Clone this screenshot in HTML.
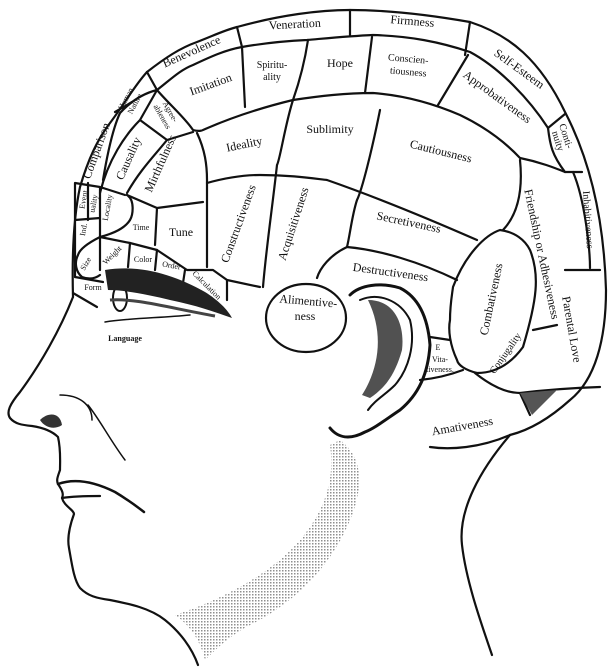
<!DOCTYPE html>
<html><head><meta charset="utf-8"><style>
html,body{margin:0;padding:0;background:#fff;}
svg{display:block}
text{font-family:"Liberation Serif",serif;font-size:12px;fill:#111;}
.s{font-size:10px}
.xs{font-size:8px}
</style></head><body>
<svg width="612" height="667" viewBox="0 0 612 667" xmlns="http://www.w3.org/2000/svg">
<defs>
<pattern id="dots" width="3" height="3" patternUnits="userSpaceOnUse"><rect width="1.5" height="1.5" fill="#333"/></pattern>
</defs>
<!-- jaw stipple band -->
<path d="M340,440 C360,455 365,480 352,515 C335,560 300,600 250,625 C230,635 215,650 205,660 C200,640 190,625 175,615 C220,600 270,575 300,540 C325,510 335,480 330,445 Z" fill="url(#dots)" opacity="0.55"/>
<g fill="none" stroke="#111" stroke-width="2.2" stroke-linejoin="round" stroke-linecap="round">
<!-- outer head -->
<path d="M73,297 C72,260 73,220 80,187 C88,160 97,140 110,123 C125,103 135,85 147,72 C165,58 180,48 197,42 C215,35 225,30 237,27 C280,15 320,10 350,10 C390,10 430,15 470,22 C510,35 540,60 565,112 C590,160 604,220 606,290 C606,340 595,380 570,400 C550,418 530,430 510,435"/>
<path d="M430,447 C450,450 480,448 510,435"/>
<!-- face profile -->
<path d="M73,297 C60,330 40,365 20,392 C10,404 6,412 10,418 C15,424 22,425 32,426 C45,428 53,432 58,437 C61,450 60,462 60,470 C58,476 56,480 58,484 C62,490 64,494 62,498 C64,506 74,510 74,514 C70,525 67,538 69,548 C72,565 74,580 80,588 C88,596 96,598 110,600 C130,604 150,608 165,620 C180,632 192,648 198,665"/>
<!-- mouth -->
<path d="M58,484 C75,478 95,482 115,492 C125,498 135,505 144,512" stroke-width="2.5"/>
<path d="M62,498 C75,496 90,496 100,496"/>
<!-- back neck -->
<path d="M510,435 C480,470 458,510 462,545 C466,580 480,620 492,655"/>
<!-- band1 inner -->
<path d="M103,180 C108,150 113,128 120,113 C132,100 145,93 157,90 C170,80 180,70 193,65 C210,57 225,50 242,47 C265,43 285,41 307,40 C330,38 350,36 373,35 C410,36 440,42 470,52 C500,68 530,100 548,128"/>
<path d="M147,72 L157,90 M237,27 L242,47 M350,10 L350,35 M470,22 L465,55"/>
<path d="M115,112 L132,102"/>
<path d="M548,128 L565,114 M548,128 C550,145 552,155 565,172 M565,172 L582,172"/>
<!-- band2 inner -->
<path d="M157,90 C170,105 185,118 193,130 C200,132 203,130 203,130 C230,118 260,108 293,100 C320,96 345,93 373,93 C400,95 430,102 460,115 C485,127 505,142 520,158 C540,162 555,168 565,172"/>
<path d="M242,47 L245,107 M308,40 C305,60 300,80 293,100 M372,37 L365,93 M468,55 L438,105"/>
<path d="M573,172 C585,200 590,250 590,268"/>
<!-- left columns -->
<path d="M100,193 C108,160 125,135 140,120 L167,140 L193,132 M140,120 L157,90"/>
<path d="M127,193 C140,170 155,155 167,140"/>
<path d="M197,133 C205,150 207,165 207,180 L207,267"/>
<path d="M207,183 C225,178 245,175 260,175 C290,175 310,178 327,180 C370,195 420,215 477,240"/>
<path d="M293,100 C285,125 280,160 277,165 C272,210 266,250 263,287"/>
<path d="M380,110 C372,150 362,190 357,200 C352,215 350,235 347,247"/>
<path d="M520,160 C522,180 522,210 503,230"/>
<!-- left small regions -->
<path d="M75,183 L100,187 L125,195 M88,183 L88,220 M75,220 L100,218 M75,183 L75,277 M100,187 L100,270"/>
<path d="M127,195 C135,200 133,215 130,220 C125,228 115,233 100,237 C90,242 80,248 78,255 C74,263 76,272 82,277 C90,280 96,278 100,275"/>
<path d="M127,195 L157,208 L155,245 M157,208 L203,202"/>
<path d="M100,237 L130,243 L157,250 L187,270 L213,270 L227,280 L260,287"/>
<path d="M130,243 L128,267 M157,250 L155,270 M185,270 L183,283 M227,280 L227,300"/>
<path d="M75,277 L103,282 M73,293 L97,307"/>
<path d="M347,247 C380,250 420,262 457,280"/>
<path d="M317,278 C320,268 330,255 347,247"/>
<ellipse cx="306" cy="318" rx="40" ry="34"/>
<path d="M453,287 C465,255 485,235 500,230 C515,232 525,240 530,250 C540,275 537,300 523,347 C510,365 495,373 477,373 C465,370 458,365 457,360 C450,345 448,330 450,320 C450,305 452,295 453,287 Z"/>
<path d="M475,373 C490,385 505,393 520,393 C545,390 570,388 600,387 M565,270 L600,270 M533,330 L557,325 M520,393 L530,415"/>
<path d="M430,337 L450,340 M420,380 C440,378 455,373 463,370"/>
<!-- ear -->
<path d="M350,295 C360,285 380,282 400,288 C420,298 428,320 430,345 C428,375 418,395 400,410 C385,420 375,428 365,432 C350,440 338,438 330,428" stroke-width="3"/>
<path d="M360,300 C378,292 400,300 410,320 C416,345 408,370 395,385 C385,395 375,400 368,410" stroke-width="2"/>
<!-- eye -->
<ellipse cx="120" cy="298" rx="7" ry="13" stroke-width="2"/>
<path d="M105,322 C130,318 160,318 190,315" stroke-width="1.5"/>
<!-- nose shading -->
<path d="M60,395 C80,395 92,405 92,420 M88,405 C100,420 110,440 125,460" stroke-width="1.5"/>
</g>
<!-- eyebrow -->
<path d="M105,270 C140,264 175,275 205,292 C218,300 228,310 232,318 C215,312 195,305 170,300 C150,295 125,290 108,290 Z" fill="#222"/>
<path d="M110,300 C135,298 170,308 215,316" fill="none" stroke="#444" stroke-width="3"/>
<path d="M520,393 L557,390 L532,415 Z" fill="#555"/>
<path d="M368,300 C395,300 405,325 402,350 C395,375 385,388 370,398 L362,395 C378,370 385,335 368,300 Z" fill="#333" opacity="0.85"/>
<path d="M40,420 C48,412 60,412 62,425 C55,430 45,428 40,420 Z" fill="#333"/>
<g>
<text x="193" y="55" transform="rotate(-24 193 55)" text-anchor="middle">Benevolence</text>
<text x="295" y="28" transform="rotate(-3 295 28)" text-anchor="middle">Veneration</text>
<text x="412" y="25" transform="rotate(5 412 25)" text-anchor="middle">Firmness</text>
<text x="517" y="72" transform="rotate(36 517 72)" text-anchor="middle">Self-Esteem</text>
<text x="563" y="137" class="s" transform="rotate(72 563 137)" text-anchor="middle">Conti-</text>
<text x="555" y="142" class="s" transform="rotate(72 555 142)" text-anchor="middle">nuity</text>
<text x="212" y="88" transform="rotate(-20 212 88)" text-anchor="middle">Imitation</text>
<text x="272" y="68" class="s" text-anchor="middle">Spiritu-</text>
<text x="272" y="80" class="s" text-anchor="middle">ality</text>
<text x="340" y="67" text-anchor="middle">Hope</text>
<text x="408" y="62" class="s" transform="rotate(5 408 62)" text-anchor="middle">Conscien-</text>
<text x="408" y="75" class="s" transform="rotate(5 408 75)" text-anchor="middle">tiousness</text>
<text x="495" y="100" transform="rotate(36 495 100)" text-anchor="middle">Approbativeness</text>
<text x="128" y="100" class="xs" transform="rotate(-62 128 100)" text-anchor="middle">Human</text>
<text x="137" y="105" class="xs" transform="rotate(-62 137 105)" text-anchor="middle">Nature</text>
<text x="168" y="113" class="xs" transform="rotate(60 168 113)" text-anchor="middle">Agree-</text>
<text x="160" y="118" class="xs" transform="rotate(60 160 118)" text-anchor="middle">ableness</text>
<text x="100" y="152" transform="rotate(-70 100 152)" text-anchor="middle">Comparison</text>
<text x="132" y="160" transform="rotate(-66 132 160)" text-anchor="middle">Causality</text>
<text x="164" y="165" transform="rotate(-66 164 165)" text-anchor="middle">Mirthfulness</text>
<text x="245" y="148" transform="rotate(-12 245 148)" text-anchor="middle">Ideality</text>
<text x="330" y="133" text-anchor="middle">Sublimity</text>
<text x="440" y="155" transform="rotate(14 440 155)" text-anchor="middle">Cautiousness</text>
<text x="538" y="255" transform="rotate(78 538 255)" text-anchor="middle">Friendship or Adhesiveness</text>
<text x="585" y="220" class="s" transform="rotate(86 585 220)" text-anchor="middle">Inhabitiveness</text>
<text x="86" y="200" class="xs" transform="rotate(-80 86 200)" text-anchor="middle">Event</text>
<text x="96" y="204" class="xs" transform="rotate(-80 96 204)" text-anchor="middle">uality</text>
<text x="110" y="208" class="xs" transform="rotate(-80 110 208)" text-anchor="middle">Locality</text>
<text x="86" y="230" class="xs" transform="rotate(-80 86 230)" text-anchor="middle">Ind.</text>
<text x="141" y="230" class="xs" text-anchor="middle">Time</text>
<text x="181" y="236" text-anchor="middle">Tune</text>
<text x="242" y="225" transform="rotate(-70 242 225)" text-anchor="middle">Constructiveness</text>
<text x="297" y="225" transform="rotate(-72 297 225)" text-anchor="middle">Acquisitiveness</text>
<text x="408" y="226" transform="rotate(12 408 226)" text-anchor="middle">Secretiveness</text>
<text x="390" y="276" transform="rotate(8 390 276)" text-anchor="middle">Destructiveness</text>
<text x="495" y="300" transform="rotate(-78 495 300)" text-anchor="middle">Combativeness</text>
<text x="568" y="330" transform="rotate(80 568 330)" text-anchor="middle">Parental Love</text>
<text x="88" y="265" class="xs" transform="rotate(-60 88 265)" text-anchor="middle">Size</text>
<text x="114" y="257" class="xs" transform="rotate(-45 114 257)" text-anchor="middle">Weight</text>
<text x="143" y="262" class="xs" text-anchor="middle">Color</text>
<text x="171" y="268" class="xs" transform="rotate(10 171 268)" text-anchor="middle">Order</text>
<text x="205" y="287" class="xs" transform="rotate(45 205 287)" text-anchor="middle">Calculation</text>
<text x="93" y="290" class="xs" text-anchor="middle">Form</text>
<text x="125" y="341" class="xs" font-weight="bold" text-anchor="middle">Language</text>
<text x="308" y="305" transform="rotate(5 308 305)" text-anchor="middle">Alimentive-</text>
<text x="305" y="320" text-anchor="middle">ness</text>
<text x="438" y="350" class="xs" text-anchor="middle">E</text>
<text x="440" y="362" class="xs" text-anchor="middle">Vita-</text>
<text x="440" y="372" class="xs" text-anchor="middle">tiveness.</text>
<text x="508" y="355" class="s" transform="rotate(-55 508 355)" text-anchor="middle">Conjugality</text>
<text x="463" y="430" transform="rotate(-10 463 430)" text-anchor="middle">Amativeness</text>
</g>
</svg>
</body></html>
